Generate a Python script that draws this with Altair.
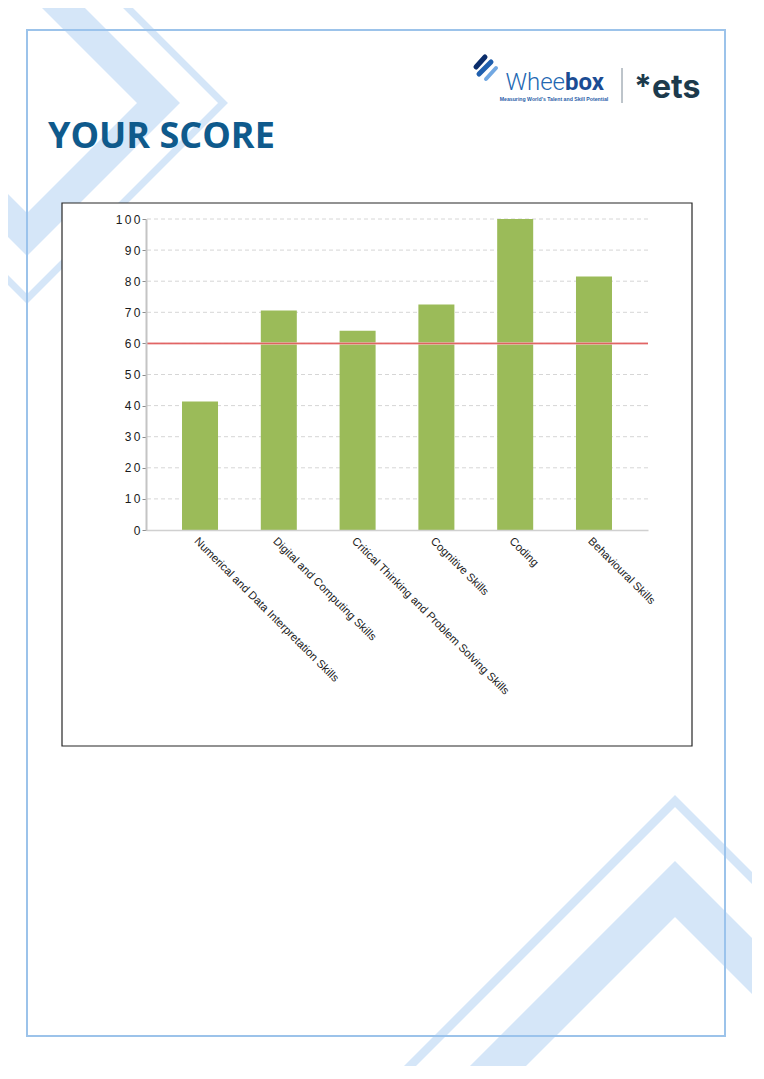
import altair as alt
import pandas as pd

# ---------------- chart data ----------------
skills = [
    "Numerical and Data Interpretation Skills",
    "Digital and Computing Skills",
    "Critical Thinking and Problem Solving Skills",
    "Cognitive Skills",
    "Coding",
    "Behavioural Skills",
]
scores = [41.3, 70.6, 64.1, 72.5, 100, 81.5]
threshold = [60]
y_ticks = [0, 10, 20, 30, 40, 50, 60, 70, 80, 90, 100]
title_text = ["YOUR SCORE"]
logo_light = ["Whee"]
logo_bold = ["box"]
logo_tagline = ["Measuring World's Talent and Skill Potential"]
ets_text = ["*ets"]

# ---------------- page decoration layout (page pixels) ----------------
PX_DOMAIN = [146, 648]   # page x of plot left / right
PY_DOMAIN = [530, 219]   # page y of plot bottom / top
PLOT_W, PLOT_H = 502, 311

chevrons = [
    # id, points, stroke width
    ("tl_thick", [(45.5, -10), (158.5, 103), (27, 234.5), (-10, 197.5)], 30.4),
    ("tl_thin", [(110, -10), (223, 103), (27, 299), (-10, 262)], 7),
    ("br_thin", [(396, 1080), (675, 801), (770, 896)], 8.5),
    ("br_thick", [(484, 1080), (675, 889), (770, 984)], 39.6),
]
frame_box = [(27, 30, 725, 1036)]
chart_box = [(62, 203, 692, 746)]
icon_strokes = [
    (476, 67, 485, 57, 5, "#0b2d6b"),
    (479, 74, 491, 62, 5, "#1f5fae"),
    (486, 79, 496, 68, 4, "#72a8e2"),
]
separator = [(622, 68, 622, 103)]


def px(field):
    return alt.X(f"{field}:Q", scale=alt.Scale(domain=PX_DOMAIN, nice=False, zero=False), axis=None)


def py(field):
    return alt.Y(f"{field}:Q", scale=alt.Scale(domain=PY_DOMAIN, nice=False, zero=False), axis=None)


chev_rows = []
for cid, pts, w in chevrons:
    for i, (x, y) in enumerate(pts):
        chev_rows.append({"id": cid, "ord": i, "x": x, "y": y, "w": w})

frame = alt.Chart(pd.DataFrame(frame_box, columns=["x", "y", "x2", "y2"])).mark_rect(
    fillOpacity=0, stroke="#9cc3ea", strokeWidth=2
).encode(x=px("x"), x2="x2", y=py("y"), y2="y2")

chev = alt.Chart(pd.DataFrame(chev_rows)).mark_line(
    color="#9cc3ee", opacity=0.42, strokeJoin="miter", strokeCap="butt"
).encode(
    x=px("x"), y=py("y"), detail="id:N", order="ord:Q",
    strokeWidth=alt.StrokeWidth("w:Q", scale=None),
)

box = alt.Chart(pd.DataFrame(chart_box, columns=["x", "y", "x2", "y2"])).mark_rect(
    fill="white", stroke="#262626", strokeWidth=1.2
).encode(x=px("x"), x2="x2", y=py("y"), y2="y2")

title = alt.Chart(pd.DataFrame({"t": title_text, "x": [48], "y": [148]})).mark_text(
    align="left", baseline="alphabetic", font="Open Sans", fontSize=36, fontWeight=700, color="#0f5a8c"
).encode(x=px("x"), y=py("y"), text="t:N")

whee = alt.Chart(pd.DataFrame({"t": logo_light, "x": [565], "y": [90]})).mark_text(
    align="right", baseline="alphabetic", font="Roboto", fontSize=24, fontWeight=300, color="#2367b2"
).encode(x=px("x"), y=py("y"), text="t:N")

box_txt = alt.Chart(pd.DataFrame({"t": logo_bold, "x": [565], "y": [90]})).mark_text(
    align="left", baseline="alphabetic", font="Roboto", fontSize=24, fontWeight=700, color="#1b4c93"
).encode(x=px("x"), y=py("y"), text="t:N")

tagline = alt.Chart(pd.DataFrame({"t": logo_tagline, "x": [554], "y": [96.5]})).mark_text(
    align="center", baseline="top", font="Liberation Sans", fontSize=5.2, fontWeight=700, color="#2a5ea8"
).encode(x=px("x"), y=py("y"), text="t:N")

icon = alt.Chart(pd.DataFrame(icon_strokes, columns=["x", "y", "x2", "y2", "w", "c"])).mark_rule(
    strokeCap="round"
).encode(
    x=px("x"), y=py("y"), x2="x2", y2="y2",
    strokeWidth=alt.StrokeWidth("w:Q", scale=None),
    color=alt.Color("c:N", scale=None),
)

sep = alt.Chart(pd.DataFrame(separator, columns=["x", "y", "x2", "y2"])).mark_rule(
    color="#7d8a96", strokeWidth=1
).encode(x=px("x"), y=py("y"), x2="x2", y2="y2")

ets = alt.Chart(pd.DataFrame({"t": ets_text, "x": [634], "y": [98]})).mark_text(
    align="left", baseline="alphabetic", font="Inter", fontSize=32, fontWeight=700, color="#1c3a4c"
).encode(x=px("x"), y=py("y"), text="t:N")

decor = alt.layer(frame, chev, box, title, icon, whee, box_txt, tagline, sep, ets)

# ---------------- main chart ----------------
yscale = alt.Scale(domain=[0, 100], nice=False, zero=True)
yaxis = alt.Axis(
    values=y_ticks, title=None, grid=False, zindex=1,
    domainColor="#c4c4c4", domainWidth=2,
    tickColor="#8c8c8c", tickSize=4, tickWidth=1,
    labelFont="Liberation Sans", labelFontSize=12, labelColor="#1a1a1a", labelPadding=2,
    labelExpr="join(split(datum.label, ''), '\u2009')",
)
xaxis = alt.Axis(
    title=None, zindex=1, ticks=False, labelAngle=45, labelAlign="left", labelBaseline="top",
    labelFont="Liberation Sans", labelFontSize=11.3, labelColor="#1e1e1e", labelPadding=5,
    labelLimit=400, domainColor="#d0d0d0", domainWidth=1.5,
)

bars_df = pd.DataFrame({"skill": skills, "score": scores})

grid = alt.Chart(pd.DataFrame({"score": y_ticks[1:]})).mark_rule(
    color="#d6d6d6", strokeDash=[4, 3], strokeWidth=1
).encode(y=alt.Y("score:Q", scale=yscale, axis=yaxis))

bars = alt.Chart(bars_df).mark_bar(color="#9bbb59").encode(
    x=alt.X("skill:N", sort=skills, scale=alt.Scale(paddingInner=0.543, paddingOuter=0.457), axis=xaxis),
    y=alt.Y("score:Q", scale=yscale, axis=yaxis),
)

thr_df = pd.DataFrame({"score": threshold})
red_halo = alt.Chart(thr_df).mark_rule(color="#f0b4b4", strokeWidth=3, opacity=0.7).encode(
    y=alt.Y("score:Q", scale=yscale, axis=yaxis)
)
red_line = alt.Chart(thr_df).mark_rule(color="#e05a5a", strokeWidth=1).encode(
    y=alt.Y("score:Q", scale=yscale, axis=yaxis)
)

main = alt.layer(grid, bars, red_halo, red_line)

chart = alt.layer(decor, main).resolve_scale(x="independent", y="independent").properties(
    width=PLOT_W,
    height=PLOT_H,
    autosize=alt.AutoSizeParams(type="none"),
    padding={"left": 138, "top": 211, "right": 104, "bottom": 536},
    background="white",
).configure_view(stroke=None)

chart.save("out.html", embed_options={"renderer": "svg", "actions": False})
